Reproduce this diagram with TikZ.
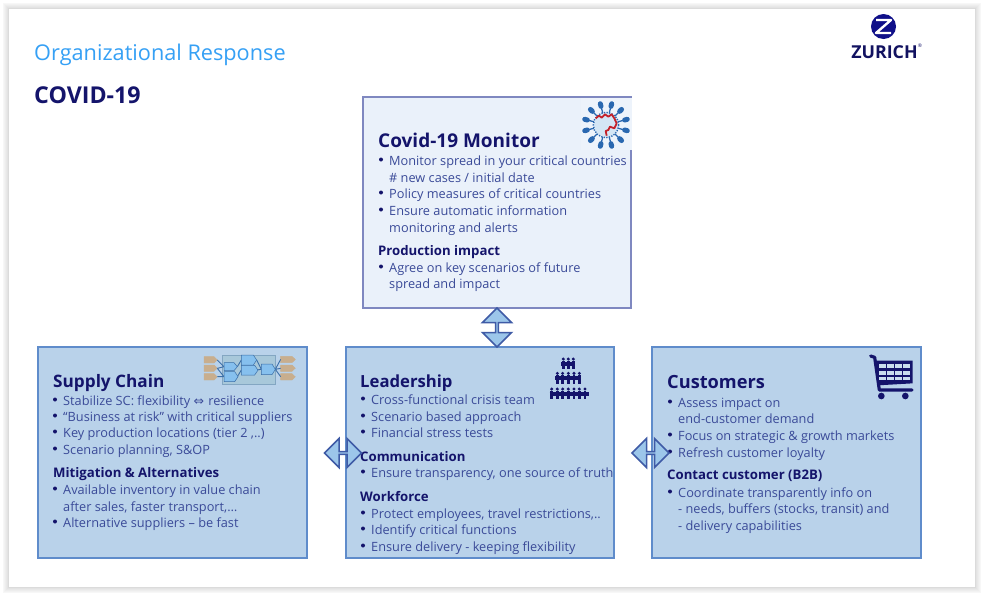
\documentclass[tikz,border=0pt]{standalone}
\usepackage{fontspec}
\setmainfont{Open Sans}
\newfontfamily\symfont{DejaVu Sans}
\usetikzlibrary{shapes.arrows,calc}
\definecolor{navy}{HTML}{14146B}
\definecolor{bodyblue}{HTML}{3A4A98}
\definecolor{titleblue}{HTML}{35A0F5}
\definecolor{pale}{HTML}{EAF1FA}
\definecolor{mid}{HTML}{B9D2EA}
\definecolor{edgeB}{HTML}{5F8CCB}
\definecolor{edgeT}{HTML}{7F88C0}
\definecolor{arrowF}{HTML}{9CC6EA}
\definecolor{arrowE}{HTML}{3F5BA6}
\definecolor{tanTab}{HTML}{C8AE8E}
\definecolor{chainBg}{HTML}{A8C8DA}
\definecolor{chainB}{HTML}{86C0EE}
\definecolor{chainL}{HTML}{3B6FA8}
\definecolor{virusB}{HTML}{2A68B0}
\definecolor{virusF}{HTML}{D4E6F5}
\definecolor{virusR}{HTML}{C4222A}
\tikzset{
 x=1pt,y=-1pt,
 panel/.style={draw=edgeB,line width=1.3pt,fill=mid},
 toppanel/.style={draw=edgeT,line width=1.3pt,fill=pale},
 head/.style={anchor=base west,inner sep=0pt,font=\fontsize{19}{19}\selectfont\bfseries,text=navy},
 sub/.style={anchor=base west,inner sep=0pt,font=\fontsize{13.2}{13}\selectfont\bfseries,text=navy},
 item/.style={anchor=base west,inner sep=0pt,font=\fontsize{12.75}{13}\selectfont,text=bodyblue},
 dot/.style={circle,fill=navy,inner sep=0pt,minimum size=4pt},
 dbl/.style={double arrow,draw=arrowE,line width=1.5pt,fill=arrowF,inner sep=0pt,
   minimum height=37pt,minimum width=29pt,double arrow head extend=7pt,
   double arrow tip angle=90},
}
\newcommand{\tl}[5][item]{\node[#1] (#2) at (#3,#4) {#5};}
\newcommand{\bl}[5]{\node[dot] (d#1) at (#2,#4-5.5) {}; \node[item] (#1) at (#3,#4) {#5};}
\newcommand{\pent}[5]{\filldraw[#5] (#1,#2) -- ++(#3-10,0) -- ++(10,#4/2) -- ++(-10,#4/2) -- ++(-#3+10,0) -- cycle;}
\newcommand{\person}[2]{\fill[navy] (#1,#2+5) circle (5);
  \draw[navy,line width=2.7pt] (#1,#2+10) -- (#1,#2+36);}
\begin{document}
\begin{tikzpicture}
\useasboundingbox (0,0) rectangle (983,595);
\fill[white] (0,0) rectangle (983,595);
\foreach \k/\g in {6/3,5/5,4/7,3/9,2/11,1/14}{
  \fill[black!\g] (9-\k,9-\k) rectangle (975+\k,587+\k);
}
\node[draw=none,fill=white,inner sep=0pt,minimum width=966pt,minimum height=578pt] (slide) at (492,298) {};

\node[anchor=base west,inner sep=0pt,font=\fontsize{21.7}{22}\selectfont,text=titleblue] (title) at (34,60) {Organizational Response};
\node[anchor=base west,inner sep=0pt,font=\fontsize{23.2}{23}\selectfont\bfseries,text=navy] (covid) at (34,103) {COVID-19};

% logo
\node[circle,fill=navy!80!blue,inner sep=0pt,minimum size=25pt] (zball) at (883.5,26.5) {};
\draw[white,line width=2.4pt,line join=round] (876,20) -- (891,20) -- (876,33) -- (891,33);
\node[anchor=base,inner sep=0pt,font=\fontsize{17.8}{18}\selectfont\bfseries,text=navy!90!black] (zurich) at (884.5,58) {ZURICH};
\node[anchor=base,inner sep=0pt,font=\fontsize{5}{5}\selectfont,text=navy] (reg) at (920,47) {®};

% panels
\node[toppanel,inner sep=0pt,minimum width=268pt,minimum height=211pt] (monitor) at (497,202.5) {};
\node[panel,inner sep=0pt,minimum width=269pt,minimum height=211pt] (supply) at (172.5,452.5) {};
\node[panel,inner sep=0pt,minimum width=268pt,minimum height=211pt] (lead) at (480,452.5) {};
\node[panel,inner sep=0pt,minimum width=269pt,minimum height=211pt] (cust) at (786.5,452.5) {};

% virus icon
\fill[pale!85!white] (581,98.2) rectangle (632,150);
\begin{scope}[shift={(575,95)},scale=1/3]
  \foreach \a in {15,45,...,345}{
    \draw[virusB,line width=1.3pt] (93,90) ++(\a:38) -- ++(\a:20);
    \draw[virusB,line width=5pt,line cap=round] (93,90) ++(\a:58) -- ++(\a:8);
  }
  \fill[virusF] (93,90) circle (37);
  \draw[virusB,line width=1.4pt,dash pattern=on 1.3pt off 1.3pt] (93,90) circle (38);
  \draw[virusR,line width=1.8pt,line join=round] (62,70) -- (72,62) -- (80,68) -- (90,58) -- (100,65) -- (110,58) -- (118,70) -- (125,85) -- (118,100) -- (105,95) -- (100,105) -- (92,108) -- (95,122);
\end{scope}

% supply chain icon
\begin{scope}[shift={(198,350)},scale=1/3]
  \fill[chainBg] (72,15) rectangle (232,102);
  \draw[chainB!60!gray,line width=.5pt] (72,15) rectangle (232,102);
  \foreach \yy in {20,45,71}{
    \pent{18}{\yy}{40}{19}{tanTab}
  }
  \foreach \yy in {19,45,71}{
    \pent{248}{\yy}{44}{19}{tanTab}
  }
  \draw[chainL,line width=.9pt] (58,30) -- (78,50) (58,55) -- (78,50) (58,55) -- (78,80) (58,80) -- (78,80)
     (118,50) -- (130,30) (118,80) -- (130,60) (175,60) -- (190,58) (176,30) -- (190,58)
     (232,58) -- (248,28) (232,58) -- (248,55) (232,58) -- (248,80);
  \pent{78}{38}{40}{24}{fill=chainB,draw=chainL,line width=.5pt}
  \pent{78}{65}{42}{30}{fill=chainB,draw=chainL,line width=.5pt}
  \pent{130}{15}{46}{30}{fill=chainB,draw=chainL,line width=.5pt}
  \pent{130}{46}{50}{29}{fill=chainB,draw=chainL,line width=.5pt}
  \pent{190}{42}{42}{32}{fill=chainB,draw=chainL,line width=.5pt}
\end{scope}

% people icon
\begin{scope}[shift={(540,350)},scale=1/3]
  \foreach \px in {70,85,100}{\person{\px}{22}}
  \foreach \px in {52,68,85,102,118}{\person{\px}{65}}
  \foreach \px in {35,52,68,85,102,118,135}{\person{\px}{112}}
  \draw[navy,line width=3.8pt] (64,42) -- (106,42);
  \draw[navy,line width=3.8pt] (46,85) -- (124,85);
  \draw[navy,line width=4pt] (29,131) -- (147,131);
\end{scope}

% cart icon
\begin{scope}[shift={(862,350)},scale=1/3]
  \draw[navy,line width=3.2pt,line cap=round,line join=round] (26,18) -- (38,22) -- (52,120) -- (150,120);
  \fill[navy] (40,32) -- (152,32) -- (152,100) -- (48,106) -- cycle;
  \foreach \cx in {52,76,100,124}{
    \foreach \cy/\ch in {42/13,62/12,81/10}{
      \fill[mid!75!white] (\cx,\cy) rectangle ++(19,\ch);
    }
  }
  \fill[navy] (58,138) circle (10);
  \fill[navy] (130,138) circle (10);
\end{scope}

% monitor text
\tl[head]{mh}{378}{147}{Covid-19 Monitor}
\bl{m1}{381}{389}{165}{Monitor spread in your critical countries}
\tl{m1b}{389}{182}{\# new cases / initial date}
\bl{m2}{381}{389}{198}{Policy measures of critical countries}
\bl{m3}{381}{389}{215}{Ensure automatic information}
\tl{m3b}{389}{232}{monitoring and alerts}
\tl[sub]{ms}{378}{255}{Production impact}
\bl{m4}{381}{389}{272}{Agree on key scenarios of future}
\tl{m4b}{389}{288}{spread and impact}

% supply text
\tl[head,font=\fontsize{17.2}{19}\selectfont\bfseries]{sh}{53}{387}{Supply Chain}
\bl{s1}{55}{63}{405}{Stabilize SC: flexibility {\symfont\fontsize{12.5}{13}\selectfont ⇔}\ \kern1pt resilience}
\bl{s2}{55}{63}{421}{“Business at risk” with critical suppliers}
\bl{s3}{55}{63}{437}{Key production locations (tier 2 ,..)}
\bl{s4}{55}{63}{454}{Scenario planning, S\&OP}
\tl[sub]{ss}{53}{477}{Mitigation \& Alternatives}
\bl{s5}{55}{63}{494}{Available inventory in value chain}
\tl{s5b}{63}{511}{after sales, faster transport,…}
\bl{s6}{55}{63}{527}{Alternative suppliers – be fast}

% leadership text
\tl[head,font=\fontsize{16.7}{19}\selectfont\bfseries]{lh}{360}{387}{Leadership}
\bl{l1}{363}{371}{404}{Cross-functional crisis team}
\bl{l2}{363}{371}{421}{Scenario based approach}
\bl{l3}{363}{371}{437}{Financial stress tests}
\tl[sub]{ls1}{360}{461}{Communication}
\bl{l4}{363}{371}{477}{Ensure transparency, one source of truth}
\tl[sub]{ls2}{360}{501}{Workforce}
\bl{l5}{363}{371}{518}{Protect employees, travel restrictions,..}
\bl{l6}{363}{371}{534}{Identify critical functions}
\bl{l7}{363}{371}{551}{Ensure delivery - keeping flexibility}

% customers text
\tl[head,font=\fontsize{18.2}{19}\selectfont\bfseries]{ch}{667}{388}{Customers}
\bl{c1}{670}{678}{407}{Assess impact on}
\tl{c1b}{678}{423}{end-customer demand}
\bl{c2}{670}{678}{440}{Focus on strategic \& growth markets}
\bl{c3}{670}{678}{457}{Refresh customer loyalty}
\tl[sub]{cs}{667}{479}{Contact customer (B2B)}
\bl{c4}{670}{678}{497}{Coordinate transparently info on}
\tl{c4b}{678}{513}{- needs, buffers (stocks, transit) and}
\tl{c4c}{678}{530}{- delivery capabilities}

% block arrows
\node[dbl,minimum height=39pt,shape border rotate=90] (av) at (monitor.south |- 0,327.5) {};
\node[dbl] (al) at (343,453) {};
\node[dbl] (ar) at (650.5,453) {};
\end{tikzpicture}
\end{document}
